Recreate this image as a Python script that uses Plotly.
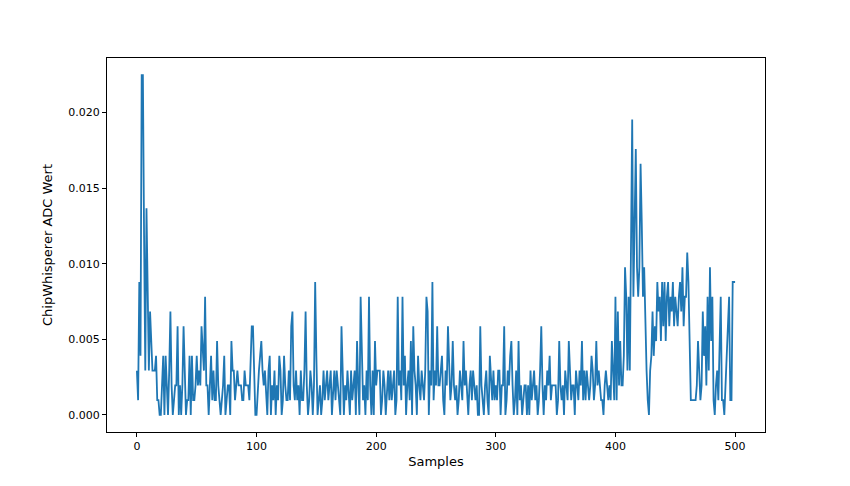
import plotly.graph_objects as go

LSB = 1 / 1024  # ADC step size
counts_000 = [3,1,9,4,23,23,12,3,14,8, 3,7,5,3,3,3,4,1,1,0, 0,2,4,0,4,2,0,3,7,2, 0,1,2,2,6,0,2,0,2,6,
              2,0,1,1,4,0,4,1,1,2, 4,2,3,2,6,4,3,8,2,2, 0,2,4,1,3,1,1,5,2,1, 0,1,2,4,0,1,2,2,0,5,
              3,3,1,2,3,2,2,2,1,1, 3,2,2,2,1,4,6,6,2,0]
counts_100 = [0,2,3,4,5,3,2,3,1,0, 3,4,0,2,1,3,0,2,1,4, 3,0,1,4,2,1,1,3,1,6, 7,2,1,3,1,2,0,3,1,1,
              3,7,2,0,1,3,2,0,2,9, 4,0,1,2,0,1,3,1,2,3, 1,2,3,0,2,3,1,3,2,1, 0,6,2,0,2,1,3,1,0,3,
              1,2,3,0,5,2,0,8,3,1, 2,0,3,1,8,2,0,3,0,5]
counts_200 = [2,3,3,3,0,1,3,2,0,2, 3,1,3,1,2,3,0,1,8,2, 3,1,8,2,4,0,2,3,1,5, 0,6,3,2,0,4,2,1,3,2,
              1,3,8,7,0,3,2,9,1,3, 2,6,2,2,3,4,1,0,3,2, 6,3,1,2,5,2,1,2,0,1, 3,2,1,5,2,3,1,0,2,3,
              1,3,2,1,2,0,0,6,2,1, 0,2,3,1,0,4,2,1,3,1]
counts_300 = [2,1,3,3,0,2,2,6,0,1, 3,2,4,5,2,0,1,3,0,5, 1,2,0,1,2,2,0,2,0,3, 1,2,3,1,2,0,1,3,6,2,
              0,2,1,3,2,4,1,2,2,2, 2,0,1,5,2,1,2,0,3,2, 1,5,3,1,2,2,0,3,2,1, 3,2,5,1,3,1,3,2,1,2,
              4,3,1,2,5,2,3,2,1,1, 0,2,3,2,1,2,1,5,3,1]
counts_400 = [8,1,7,2,5,2,2,4,10,8, 3,8,3,10,20,8,12,18,10,8, 10,17,13,8,10,5,3,1,0,3, 4,7,4,6,5,9,7,8,5,9,
              6,9,5,8,9,6,8,7,9,6, 8,7,6,8,9,7,10,6,8,8, 11,9,4,1,1,1,1,1,2,5, 3,1,2,7,4,6,2,8,3,10,
              5,8,1,0,2,3,1,4,8,1, 1,0,2,5,7,8,1,1,9,9, 9]

counts = counts_000 + counts_100 + counts_200 + counts_300 + counts_400
samples = list(range(len(counts)))
values = [c * LSB for c in counts]

fig = go.Figure(go.Scatter(x=samples, y=values, mode="lines",
                           line=dict(color="#1f77b4", width=1.8)))
fig.update_layout(
    width=850, height=486, plot_bgcolor="white", paper_bgcolor="white",
    margin=dict(l=99, r=93, t=50, b=62, pad=0), showlegend=False,
    font=dict(family="DejaVu Sans", size=11, color="black"),
)
ax = dict(showline=True, linecolor="black", mirror=True, showgrid=False,
          zeroline=False, ticks="outside", ticklen=4, tickcolor="black")
fig.update_xaxes(title_text="Samples", title_standoff=4, range=[-25, 525],
                 tickvals=[0,100,200,300,400,500], **ax)
fig.update_yaxes(title_text="ChipWhisperer ADC Wert", title_standoff=12, range=[-0.00113, 0.0236],
                 tickvals=[0,0.005,0.01,0.015,0.02], tickformat=".3f", **ax)
fig.write_html("out.html")
